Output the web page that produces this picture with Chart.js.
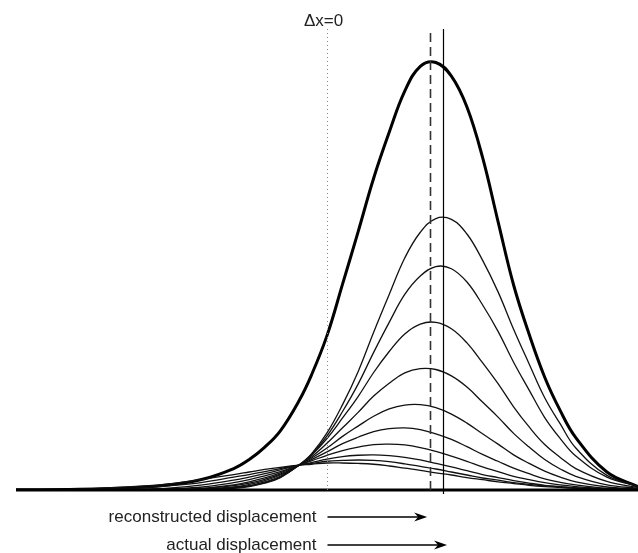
<!DOCTYPE html>
<html>
<head>
<meta charset="utf-8">
<script src="https://cdn.jsdelivr.net/npm/chart.js@4"></script>
<style>
  html, body { margin: 0; padding: 0; background: #fff; }
  #wrap { width: 638px; height: 553px; }
</style>
</head>
<body>
<div id="wrap"><canvas id="chart" width="638" height="553"></canvas></div>
<script>
// sample positions along the displacement axis (Δx = 0 at the dotted line)
const xs = [-5, -4, -3, -2.5, -2, -1.5, -1.25, -1, -0.75, -0.45, -0.25, 0, 0.25, 0.5, 0.75, 1,
            1.25, 1.5, 1.75, 2, 2.25, 2.5, 2.75, 3, 3.25, 3.5, 3.75, 4, 4.5, 5];

// thick profile
const thick = [0.0003, 0.0015, 0.0066, 0.013, 0.025, 0.050, 0.071, 0.100, 0.138, 0.208, 0.268, 0.360, 0.480, 0.602, 0.727, 0.834,
               0.930, 0.988, 0.997, 0.965, 0.893, 0.776, 0.626, 0.478, 0.363, 0.263, 0.185, 0.122, 0.042, 0.008];

// thin family, tallest first
const curve1 = [0, 0, 0, 0, 0.001, 0.004, 0.008, 0.016, 0.029, 0.058, 0.084, 0.133, 0.199, 0.276, 0.368, 0.456,
                0.541, 0.601, 0.633, 0.631, 0.597, 0.536, 0.462, 0.375, 0.294, 0.215, 0.154, 0.098, 0.034, 0.009];
const curve2 = [0, 0, 0, 0, 0.001, 0.005, 0.009, 0.017, 0.030, 0.058, 0.082, 0.126, 0.183, 0.247, 0.321, 0.391,
                0.456, 0.499, 0.521, 0.516, 0.485, 0.432, 0.370, 0.298, 0.233, 0.169, 0.120, 0.079, 0.030, 0.009];
const curve3 = [0, 0, 0, 0, 0.001, 0.006, 0.010, 0.019, 0.032, 0.058, 0.081, 0.120, 0.168, 0.218, 0.274, 0.323,
                0.364, 0.387, 0.391, 0.376, 0.343, 0.297, 0.248, 0.194, 0.147, 0.106, 0.076, 0.050, 0.020, 0.006];
const curve4 = [0, 0, 0, 0.001, 0.002, 0.007, 0.013, 0.022, 0.035, 0.058, 0.077, 0.109, 0.145, 0.181, 0.219, 0.249,
                0.273, 0.283, 0.281, 0.266, 0.240, 0.205, 0.170, 0.132, 0.100, 0.071, 0.049, 0.032, 0.012, 0.004];
const curve5 = [0, 0, 0, 0.001, 0.003, 0.010, 0.016, 0.025, 0.037, 0.058, 0.074, 0.098, 0.125, 0.149, 0.172, 0.189,
                0.198, 0.199, 0.192, 0.177, 0.156, 0.131, 0.107, 0.082, 0.062, 0.044, 0.030, 0.019, 0.007, 0.002];
const curve6 = [0, 0, 0, 0.001, 0.004, 0.012, 0.019, 0.028, 0.040, 0.058, 0.071, 0.089, 0.108, 0.123, 0.136, 0.143,
                0.145, 0.141, 0.131, 0.118, 0.101, 0.083, 0.067, 0.051, 0.038, 0.026, 0.018, 0.012, 0.004, 0.001];
const curve7 = [0, 0, 0.001, 0.003, 0.007, 0.017, 0.024, 0.033, 0.043, 0.058, 0.068, 0.081, 0.092, 0.100, 0.106, 0.107,
                0.105, 0.099, 0.090, 0.079, 0.067, 0.054, 0.043, 0.032, 0.024, 0.017, 0.012, 0.008, 0.003, 0.001];
const curve8 = [0, 0, 0.002, 0.005, 0.012, 0.023, 0.030, 0.038, 0.047, 0.058, 0.064, 0.072, 0.078, 0.081, 0.082, 0.080,
                0.076, 0.070, 0.062, 0.054, 0.045, 0.036, 0.029, 0.022, 0.016, 0.011, 0.008, 0.005, 0.002, 0.001];
const curve9 = [0, 0.001, 0.005, 0.010, 0.018, 0.030, 0.036, 0.043, 0.050, 0.058, 0.062, 0.067, 0.069, 0.070, 0.069, 0.066,
                0.061, 0.055, 0.049, 0.042, 0.035, 0.028, 0.023, 0.017, 0.013, 0.010, 0.007, 0.005, 0.002, 0.001];
const curve10 = [0, 0.002, 0.009, 0.015, 0.025, 0.036, 0.042, 0.048, 0.053, 0.058, 0.060, 0.063, 0.063, 0.062, 0.060, 0.056,
                 0.051, 0.046, 0.040, 0.035, 0.029, 0.024, 0.019, 0.015, 0.011, 0.008, 0.006, 0.004, 0.002, 0.001];

// vertical markers and arrows
const zeroLabel = 'Δx=0';
const markerZero = 0;
const markerRecon = 1.66;
const markerActual = 1.87;
const arrowLabels = ['reconstructed displacement', 'actual displacement'];
const arrowEnds = [1.61, 1.93];

const thinCurves = [curve1, curve2, curve3, curve4, curve5, curve6, curve7, curve8, curve9, curve10];

function toPoints(ys) {
    return xs.map((x, i) => ({ x: x, y: ys[i] }));
}

const datasets = thinCurves.map(c => ({
    data: toPoints(c),
    borderColor: '#111',
    borderWidth: 1.3,
    pointRadius: 0,
    tension: 0.4,
    fill: false
}));
datasets.push({
    data: toPoints(thick),
    borderColor: '#000',
    borderWidth: 3,
    pointRadius: 0,
    tension: 0.4,
    fill: false
});

const FONT = '17px "Liberation Sans", Arial, sans-serif';

// Draws baseline, marker lines, labels and arrows
const overlay = {
    id: 'overlay',
    afterDraw(chart) {
        const { ctx, chartArea } = chart;
        const sx = chart.scales.x, sy = chart.scales.y;
        const y0 = sy.getPixelForValue(0);
        const top = chartArea.top;
        const xZero = Math.round(sx.getPixelForValue(markerZero)) + 0.5;
        const xRec = Math.round(sx.getPixelForValue(markerRecon)) + 0.5;
        const xAct = Math.round(sx.getPixelForValue(markerActual)) + 0.5;

        ctx.save();

        // baseline
        ctx.strokeStyle = '#000';
        ctx.lineWidth = 3;
        ctx.beginPath();
        ctx.moveTo(chartArea.left, y0);
        ctx.lineTo(chartArea.right, y0);
        ctx.stroke();

        // dotted Δx=0 line
        ctx.strokeStyle = '#888';
        ctx.lineWidth = 1;
        ctx.setLineDash([1, 3]);
        ctx.beginPath();
        ctx.moveTo(xZero, top);
        ctx.lineTo(xZero, y0);
        ctx.stroke();

        // dashed reconstructed line
        ctx.strokeStyle = '#333';
        ctx.lineWidth = 1.6;
        ctx.setLineDash([9, 5]);
        ctx.beginPath();
        ctx.moveTo(xRec, top + 4);
        ctx.lineTo(xRec, y0);
        ctx.stroke();

        // solid actual line
        ctx.setLineDash([]);
        ctx.strokeStyle = '#000';
        ctx.lineWidth = 1.2;
        ctx.beginPath();
        ctx.moveTo(xAct, top);
        ctx.lineTo(xAct, y0 + 4);
        ctx.stroke();

        // labels
        ctx.fillStyle = '#222';
        ctx.font = FONT;
        ctx.textBaseline = 'middle';
        ctx.textAlign = 'center';
        ctx.fillText(zeroLabel, xZero - 4, top - 8);

        ctx.textAlign = 'right';
        arrowLabels.forEach((label, i) => {
            const yRow = y0 + 27 + i * 28;
            ctx.fillStyle = '#222';
            ctx.fillText(label, xZero - 11, yRow);
            const tip = sx.getPixelForValue(arrowEnds[i]);
            ctx.strokeStyle = '#000';
            ctx.lineWidth = 1.3;
            ctx.beginPath();
            ctx.moveTo(xZero, yRow);
            ctx.lineTo(tip - 8, yRow);
            ctx.stroke();
            ctx.fillStyle = '#000';
            ctx.beginPath();
            ctx.moveTo(tip, yRow);
            ctx.lineTo(tip - 13, yRow - 4.5);
            ctx.lineTo(tip - 9, yRow);
            ctx.lineTo(tip - 13, yRow + 4.5);
            ctx.closePath();
            ctx.fill();
        });

        ctx.restore();
    }
};

new Chart(document.getElementById('chart').getContext('2d'), {
    type: 'line',
    data: { datasets: datasets },
    options: {
        responsive: false,
        animation: false,
        devicePixelRatio: 1,
        layout: { padding: { left: 16, right: 0, top: 29, bottom: 63 } },
        plugins: { legend: { display: false }, tooltip: { enabled: false } },
        scales: {
            x: { type: 'linear', min: -5, max: 5, display: false },
            y: { min: 0, max: 1.075, display: false }
        }
    },
    plugins: [overlay]
});
</script>
</body>
</html>
